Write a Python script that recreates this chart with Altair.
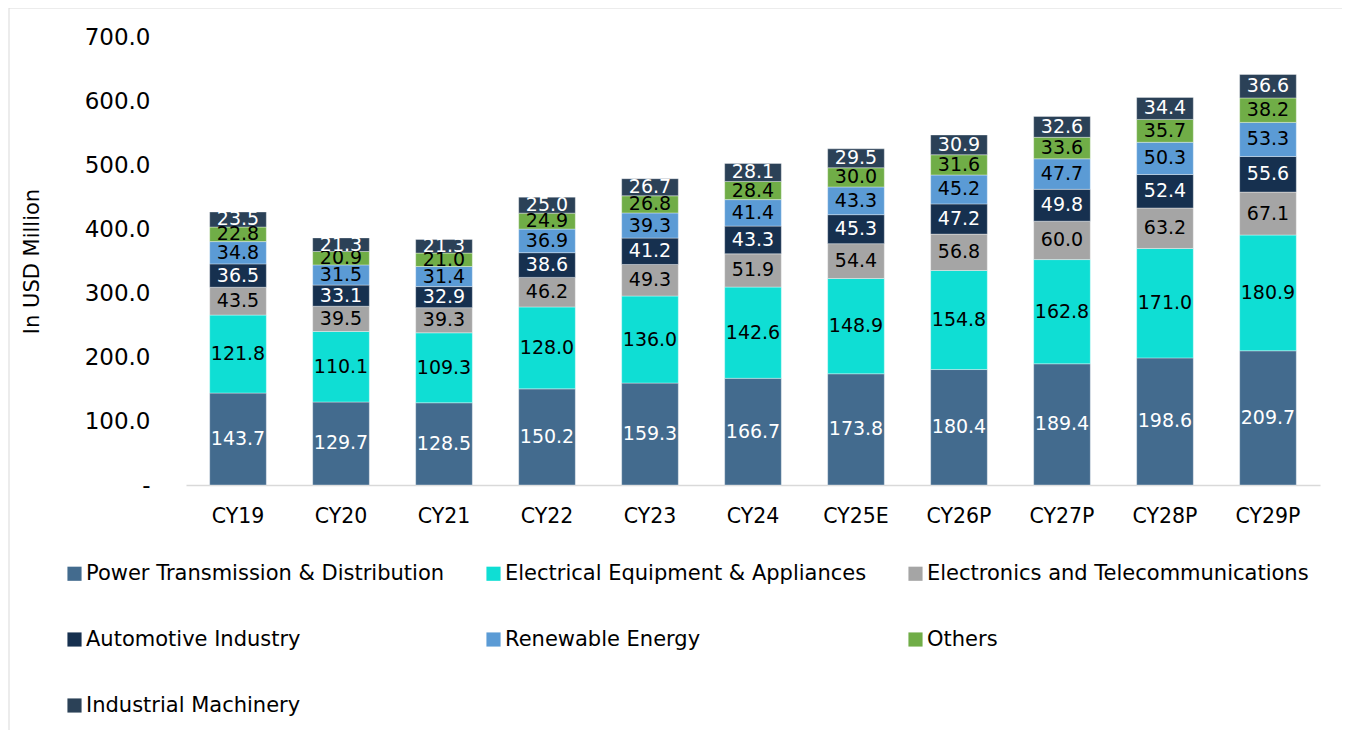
import altair as alt
import pandas as pd

years = ["CY19", "CY20", "CY21", "CY22", "CY23", "CY24", "CY25E", "CY26P", "CY27P", "CY28P", "CY29P"]
categories = [
    "Power Transmission & Distribution",
    "Electrical Equipment & Appliances",
    "Electronics and Telecommunications",
    "Automotive Industry",
    "Renewable Energy",
    "Others",
    "Industrial Machinery",
]
power = [143.7, 129.7, 128.5, 150.2, 159.3, 166.7, 173.8, 180.4, 189.4, 198.6, 209.7]
electrical = [121.8, 110.1, 109.3, 128.0, 136.0, 142.6, 148.9, 154.8, 162.8, 171.0, 180.9]
electronics = [43.5, 39.5, 39.3, 46.2, 49.3, 51.9, 54.4, 56.8, 60.0, 63.2, 67.1]
automotive = [36.5, 33.1, 32.9, 38.6, 41.2, 43.3, 45.3, 47.2, 49.8, 52.4, 55.6]
renewable = [34.8, 31.5, 31.4, 36.9, 39.3, 41.4, 43.3, 45.2, 47.7, 50.3, 53.3]
others = [22.8, 20.9, 21.0, 24.9, 26.8, 28.4, 30.0, 31.6, 33.6, 35.7, 38.2]
industrial = [23.5, 21.3, 21.3, 25.0, 26.7, 28.1, 29.5, 30.9, 32.6, 34.4, 36.6]

series = [power, electrical, electronics, automotive, renewable, others, industrial]
bar_colors = ["#436B8E", "#0FDED4", "#A5A5A5", "#16304F", "#5B9BD5", "#70AD47", "#2B4157"]
text_colors = ["#FFFFFF", "#000000", "#000000", "#FFFFFF", "#000000", "#000000", "#FFFFFF"]

rows = []
for ci, (cat, vals) in enumerate(zip(categories, series)):
    for yr, v in zip(years, vals):
        rows.append({"year": yr, "category": cat, "idx": ci, "value": v})
df = pd.DataFrame(rows)

FONT = "DejaVu Sans"

base = alt.Chart(df)

x_enc = alt.X(
    "year:N",
    sort=years,
    title=None,
    scale=alt.Scale(paddingInner=0.45, paddingOuter=0.23),
    axis=alt.Axis(
        labelAngle=0, labelFontSize=20.5, labelColor="#000000", labelFont=FONT,
        ticks=False, domainColor="#D9D9D9", domainWidth=1.5, labelPadding=21,
    ),
)

bars = base.mark_bar(stroke="#FFFFFF", strokeWidth=0.6, strokeOpacity=0.6).encode(
    x=x_enc,
    y=alt.Y(
        "value:Q",
        stack="zero",
        title="In USD Million",
        scale=alt.Scale(domain=[0, 700]),
        axis=alt.Axis(
            values=[0, 100, 200, 300, 400, 500, 600, 700],
            labelExpr="datum.value == 0 ? '-' : format(datum.value, '.1f')",
            labelFontSize=23, labelColor="#000000", labelFont=FONT,
            ticks=False, domain=False, grid=False, labelPadding=36,
            titleFontSize=21, titleFont=FONT, titleFontWeight="normal",
            titleColor="#000000", titlePadding=42,
        ),
    ),
    color=alt.Color(
        "category:N",
        scale=alt.Scale(domain=categories, range=bar_colors),
        legend=alt.Legend(
            title=None, orient="none", legendX=-122, legendY=526,
            direction="horizontal",
            columns=3, columnPadding=38, rowPadding=44,
            symbolType="square", symbolSize=200, symbolStrokeWidth=0,
            labelFontSize=21, labelFont=FONT, labelColor="#000000",
            labelLimit=500, labelOffset=1,
        ),
    ),
    order=alt.Order("idx:Q", sort="ascending"),
)

labels = base.transform_stack(
    stack="value", groupby=["year"], as_=["v0", "v1"],
    sort=[alt.SortField("idx", order="ascending")],
).transform_calculate(
    mid="(datum.v0 + datum.v1) / 2",
    lbl="format(datum.value, '.1f')",
).mark_text(fontSize=19, font=FONT, baseline="middle", align="center").encode(
    x=alt.X("year:N", sort=years),
    y=alt.Y("mid:Q"),
    text="lbl:N",
    color=alt.Color(
        "category:N",
        scale=alt.Scale(domain=categories, range=text_colors),
        legend=None,
    ),
)

frame = alt.Chart(pd.DataFrame({"k": [0]})).mark_rect(
    fill=None, stroke="#D9D9D9", strokeWidth=1
).encode(
    x=alt.value(-177), x2=alt.value(1160), y=alt.value(-29), y2=alt.value(760)
)

chart = alt.layer(frame, bars, labels).resolve_scale(color="independent").properties(
    width=1134,
    height=448,
    autosize=alt.AutoSizeParams(type="none"),
    padding={"left": 178, "top": 29, "right": 22, "bottom": 245},
).configure_view(stroke=None)

chart.save("out.html", embed_options={"renderer": "svg", "actions": False})
